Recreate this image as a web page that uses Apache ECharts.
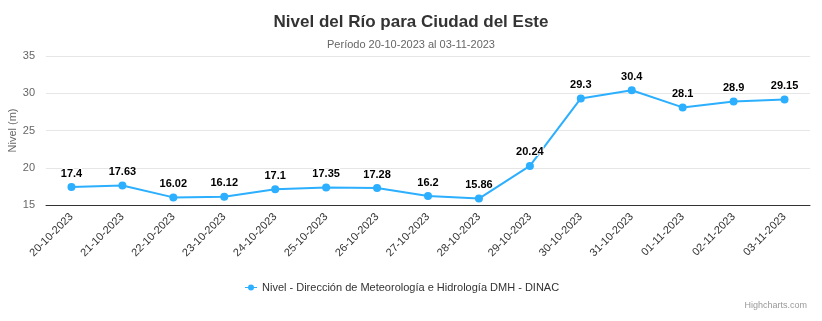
<!DOCTYPE html>
<html>
<head>
<meta charset="utf-8">
<script src="https://cdn.jsdelivr.net/npm/echarts@6/dist/echarts.min.js"></script>
<style>
  html, body { margin: 0; padding: 0; background: #fff; }
  #chart { width: 822px; height: 321px; }
</style>
</head>
<body>
<div id="chart"></div>
<script>
// Daily river level readings, Ciudad del Este
const fechas = ['20-10-2023', '21-10-2023', '22-10-2023', '23-10-2023', '24-10-2023',
  '25-10-2023', '26-10-2023', '27-10-2023', '28-10-2023', '29-10-2023',
  '30-10-2023', '31-10-2023', '01-11-2023', '02-11-2023', '03-11-2023'];
const nivel = [17.4, 17.63, 16.02, 16.12, 17.1, 17.35, 17.28, 16.2, 15.86, 20.24,
  29.3, 30.4, 28.1, 28.9, 29.15];
const serieNombre = 'Nivel - Dirección de Meteorología e Hidrología DMH - DINAC';

const font = 'Arial, "Liberation Sans", Helvetica, sans-serif';
const chart = echarts.init(document.getElementById('chart'), null, { renderer: 'canvas' });

chart.setOption({
  animation: false,
  textStyle: { fontFamily: font },
  title: [
    {
      text: 'Nivel del Río para Ciudad del Este',
      left: 'center', top: 9,
      textStyle: { fontSize: 17, fontWeight: 'bold', color: '#333', fontFamily: font }
    },
    {
      text: 'Período 20-10-2023 al 03-11-2023',
      left: 'center', top: 34,
      textStyle: { fontSize: 11, fontWeight: 'normal', color: '#666', fontFamily: font }
    },
    {
      text: 'Highcharts.com',
      right: 10, top: 296,
      textStyle: { fontSize: 9, fontWeight: 'normal', color: '#999', fontFamily: font }
    }
  ],
  grid: {
    left: 46, right: 12, top: 56, bottom: 116,
    containLabel: false, outerBoundsMode: 'none'
  },
  legend: {
    top: 277, left: 240,
    itemWidth: 12, itemHeight: 6, itemGap: 4,
    textStyle: { fontSize: 11, color: '#333', fontFamily: font },
    data: [{
      name: serieNombre,
      icon: 'path://M0,2.5 L12,2.5 L12,3.5 L0,3.5 Z M9,3 A3,3 0 1,1 3,3 A3,3 0 1,1 9,3 Z'
    }]
  },
  xAxis: {
    type: 'category',
    data: fechas,
    boundaryGap: true,
    axisLine: { show: true, lineStyle: { color: '#333', width: 1 } },
    axisTick: { show: false },
    axisLabel: {
      rotate: 45, fontSize: 11, color: '#333', margin: 10,
      fontFamily: font, interval: 0
    },
    splitLine: { show: false }
  },
  yAxis: {
    type: 'value',
    min: 15, max: 35, interval: 5,
    name: 'Nivel (m)',
    nameLocation: 'middle',
    nameGap: 28,
    nameRotate: 90,
    nameMoveOverlap: false,
    nameTextStyle: { fontSize: 11, color: '#666', fontFamily: font },
    axisLine: { show: false },
    axisTick: { show: false },
    axisLabel: { fontSize: 11, color: '#666', margin: 11, fontFamily: font },
    splitLine: { lineStyle: { color: '#e6e6e6', width: 1 } }
  },
  series: [{
    name: serieNombre,
    type: 'line',
    data: nivel,
    symbol: 'circle',
    symbolSize: 8,
    itemStyle: { color: '#2caffe' },
    lineStyle: { color: '#2caffe', width: 2 },
    label: {
      show: true,
      position: 'top',
      distance: 4,
      fontSize: 11,
      fontWeight: 'bold',
      color: '#000',
      textBorderColor: '#fff',
      textBorderWidth: 2,
      fontFamily: font
    },
    z: 3
  }]
});
</script>
</body>
</html>
